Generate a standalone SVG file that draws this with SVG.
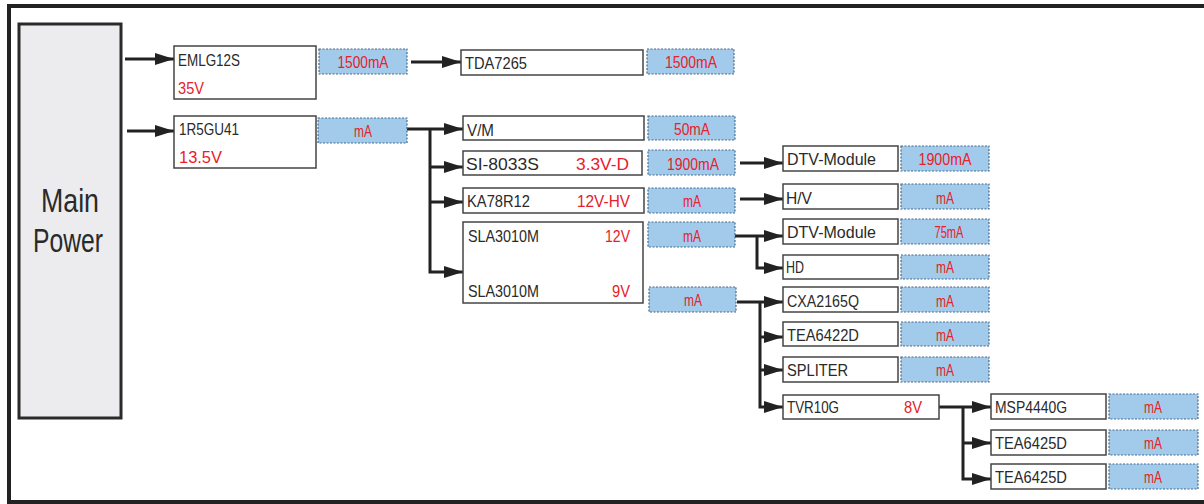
<svg xmlns="http://www.w3.org/2000/svg" width="1204" height="504" viewBox="0 0 1204 504">
<style>
.frame{fill:none;stroke:#222;stroke-width:4}
.box{fill:#fff;stroke:#444;stroke-width:1.5}
.cur{fill:#a2cbeb;stroke:#4a6a8a;stroke-width:1.2;stroke-dasharray:2 1.5}
.main{fill:#ececee;stroke:#2a2a2a;stroke-width:3}
.t{font-family:"Liberation Sans",Arial,sans-serif;font-size:17px;fill:#2a2a2a}
.r{font-family:"Liberation Sans",Arial,sans-serif;font-size:17px;fill:#e8202a}
.c{text-anchor:middle}
.big{font-family:"Liberation Sans",Arial,sans-serif;font-size:34px;fill:#2a2a2a;text-anchor:middle}
.ln{fill:none;stroke:#222;stroke-width:3}
</style>
<defs>
<marker id="ah" markerUnits="userSpaceOnUse" markerWidth="19" markerHeight="12" refX="19" refY="6" orient="auto">
<path d="M0,0 L19,6 L0,12 z" fill="#222"/>
</marker>
</defs>
<rect width="1204" height="504" fill="#fff"/>
<path class="frame" d="M1210,6 H9 V502 H1210"/>

<g id="main-power">
<rect class="main" x="19" y="24" width="102" height="394"/>
<text class="big" x="70" y="212" textLength="58" lengthAdjust="spacingAndGlyphs">Main</text>
<text class="big" x="68" y="252" textLength="70" lengthAdjust="spacingAndGlyphs">Power</text>
</g>

<g id="connectors">
<path class="ln" d="M125,59 H174" marker-end="url(#ah)"/>
<path class="ln" d="M127,131 H174" marker-end="url(#ah)"/>
<path class="ln" d="M411,62 H461" marker-end="url(#ah)"/>
<path class="ln" d="M407,129 H463" marker-end="url(#ah)"/>
<path class="ln" d="M430,129 V272 H463" marker-end="url(#ah)"/>
<path class="ln" d="M430,167 H463" marker-end="url(#ah)"/>
<path class="ln" d="M430,202 H463" marker-end="url(#ah)"/>
<path class="ln" d="M740,163 H783" marker-end="url(#ah)"/>
<path class="ln" d="M740,199 H783" marker-end="url(#ah)"/>
<path class="ln" d="M735,236 H783" marker-end="url(#ah)"/>
<path class="ln" d="M757,236 V268 H783" marker-end="url(#ah)"/>
<path class="ln" d="M737,302 H783" marker-end="url(#ah)"/>
<path class="ln" d="M760,302 V407 H783" marker-end="url(#ah)"/>
<path class="ln" d="M760,337 H783" marker-end="url(#ah)"/>
<path class="ln" d="M760,370 H783" marker-end="url(#ah)"/>
<path class="ln" d="M939,407 H991" marker-end="url(#ah)"/>
<path class="ln" d="M963,407 V479 H991" marker-end="url(#ah)"/>
<path class="ln" d="M963,443 H991" marker-end="url(#ah)"/>
</g>

<g id="emlg12s">
<rect class="box" x="174" y="46" width="142" height="53"/>
<text class="t" x="178" y="66" textLength="62" lengthAdjust="spacingAndGlyphs">EMLG12S</text>
<text class="r" x="178" y="94" textLength="26" lengthAdjust="spacingAndGlyphs">35V</text>
</g>
<g id="emlg12s-current">
<rect class="cur" x="319" y="49" width="88" height="25"/>
<text class="r c" x="363" y="68" textLength="51" lengthAdjust="spacingAndGlyphs">1500mA</text>
</g>

<g id="r5gu41">
<rect class="box" x="174" y="116" width="142" height="52"/>
<text class="t" x="179" y="135" textLength="60" lengthAdjust="spacingAndGlyphs">1R5GU41</text>
<text class="r" x="179" y="163" textLength="43" lengthAdjust="spacingAndGlyphs">13.5V</text>
</g>
<g id="r5gu41-current">
<rect class="cur" x="318" y="118" width="89" height="25"/>
<text class="r c" x="363" y="137" textLength="18" lengthAdjust="spacingAndGlyphs">mA</text>
</g>

<g id="tda7265">
<rect class="box" x="461" y="50" width="182" height="25"/>
<text class="t" x="465" y="69" textLength="62" lengthAdjust="spacingAndGlyphs">TDA7265</text>
</g>
<g id="tda7265-current">
<rect class="cur" x="647" y="49" width="87" height="25"/>
<text class="r c" x="691" y="68" textLength="52" lengthAdjust="spacingAndGlyphs">1500mA</text>
</g>

<g id="vm">
<rect class="box" x="463" y="116" width="181" height="24"/>
<text class="t" x="467" y="136" textLength="27" lengthAdjust="spacingAndGlyphs">V/M</text>
</g>
<g id="vm-current">
<rect class="cur" x="648" y="116" width="87" height="24"/>
<text class="r c" x="692" y="135" textLength="36" lengthAdjust="spacingAndGlyphs">50mA</text>
</g>

<g id="si8033s">
<rect class="box" x="463" y="151" width="179" height="24"/>
<text class="t" x="466" y="170" textLength="73" lengthAdjust="spacingAndGlyphs">SI-8033S</text>
<text class="r" x="576" y="170" textLength="53" lengthAdjust="spacingAndGlyphs">3.3V-D</text>
</g>
<g id="si8033s-current">
<rect class="cur" x="648" y="150" width="87" height="25"/>
<text class="r c" x="693" y="170" textLength="52" lengthAdjust="spacingAndGlyphs">1900mA</text>
</g>

<g id="ka78r12">
<rect class="box" x="463" y="188" width="181" height="25"/>
<text class="t" x="467" y="207" textLength="63" lengthAdjust="spacingAndGlyphs">KA78R12</text>
<text class="r" x="577" y="207" textLength="53" lengthAdjust="spacingAndGlyphs">12V-HV</text>
</g>
<g id="ka78r12-current">
<rect class="cur" x="648" y="188" width="87" height="25"/>
<text class="r c" x="692" y="207" textLength="18" lengthAdjust="spacingAndGlyphs">mA</text>
</g>

<g id="sla3010m">
<rect class="box" x="463" y="222" width="180" height="81"/>
<text class="t" x="468" y="242" textLength="71" lengthAdjust="spacingAndGlyphs">SLA3010M</text>
<text class="r" x="605" y="242" textLength="25" lengthAdjust="spacingAndGlyphs">12V</text>
<text class="t" x="468" y="297" textLength="71" lengthAdjust="spacingAndGlyphs">SLA3010M</text>
<text class="r" x="612" y="297" textLength="18" lengthAdjust="spacingAndGlyphs">9V</text>
</g>
<g id="sla3010m-12v-current">
<rect class="cur" x="648" y="222" width="87" height="25"/>
<text class="r c" x="692" y="242" textLength="18" lengthAdjust="spacingAndGlyphs">mA</text>
</g>
<g id="sla3010m-9v-current">
<rect class="cur" x="649" y="287" width="87" height="25"/>
<text class="r c" x="693" y="306" textLength="18" lengthAdjust="spacingAndGlyphs">mA</text>
</g>

<g id="dtv-module-1">
<rect class="box" x="783" y="146" width="115" height="25"/>
<text class="t" x="787" y="165" textLength="89" lengthAdjust="spacingAndGlyphs">DTV-Module</text>
</g>
<g id="dtv-module-1-current">
<rect class="cur" x="901" y="146" width="88" height="25"/>
<text class="r c" x="945" y="165" textLength="53" lengthAdjust="spacingAndGlyphs">1900mA</text>
</g>

<g id="hv">
<rect class="box" x="783" y="184" width="115" height="25"/>
<text class="t" x="786" y="204" textLength="26" lengthAdjust="spacingAndGlyphs">H/V</text>
</g>
<g id="hv-current">
<rect class="cur" x="901" y="184" width="88" height="25"/>
<text class="r c" x="945" y="204" textLength="18" lengthAdjust="spacingAndGlyphs">mA</text>
</g>

<g id="dtv-module-2">
<rect class="box" x="783" y="219" width="115" height="25"/>
<text class="t" x="787" y="238" textLength="89" lengthAdjust="spacingAndGlyphs">DTV-Module</text>
</g>
<g id="dtv-module-2-current">
<rect class="cur" x="901" y="219" width="88" height="25"/>
<text class="r c" x="949" y="238" textLength="29" lengthAdjust="spacingAndGlyphs">75mA</text>
</g>

<g id="hd">
<rect class="box" x="783" y="255" width="115" height="24"/>
<text class="t" x="786" y="273" textLength="18" lengthAdjust="spacingAndGlyphs">HD</text>
</g>
<g id="hd-current">
<rect class="cur" x="901" y="255" width="88" height="24"/>
<text class="r c" x="945" y="273" textLength="18" lengthAdjust="spacingAndGlyphs">mA</text>
</g>

<g id="cxa2165q">
<rect class="box" x="783" y="287" width="115" height="25"/>
<text class="t" x="787" y="307" textLength="72" lengthAdjust="spacingAndGlyphs">CXA2165Q</text>
</g>
<g id="cxa2165q-current">
<rect class="cur" x="901" y="287" width="88" height="25"/>
<text class="r c" x="945" y="307" textLength="18" lengthAdjust="spacingAndGlyphs">mA</text>
</g>

<g id="tea6422d">
<rect class="box" x="783" y="322" width="115" height="24"/>
<text class="t" x="787" y="341" textLength="72" lengthAdjust="spacingAndGlyphs">TEA6422D</text>
</g>
<g id="tea6422d-current">
<rect class="cur" x="901" y="322" width="88" height="24"/>
<text class="r c" x="945" y="341" textLength="18" lengthAdjust="spacingAndGlyphs">mA</text>
</g>

<g id="spliter">
<rect class="box" x="783" y="357" width="115" height="25"/>
<text class="t" x="787" y="376" textLength="61" lengthAdjust="spacingAndGlyphs">SPLITER</text>
</g>
<g id="spliter-current">
<rect class="cur" x="901" y="357" width="88" height="25"/>
<text class="r c" x="945" y="376" textLength="18" lengthAdjust="spacingAndGlyphs">mA</text>
</g>

<g id="tvr10g">
<rect class="box" x="783" y="395" width="156" height="24"/>
<text class="t" x="787" y="413" textLength="52" lengthAdjust="spacingAndGlyphs">TVR10G</text>
<text class="r" x="904" y="413" textLength="18" lengthAdjust="spacingAndGlyphs">8V</text>
</g>

<g id="msp4440g">
<rect class="box" x="991" y="394" width="115" height="25"/>
<text class="t" x="995" y="413" textLength="72" lengthAdjust="spacingAndGlyphs">MSP4440G</text>
</g>
<g id="msp4440g-current">
<rect class="cur" x="1109" y="394" width="89" height="25"/>
<text class="r c" x="1153" y="413" textLength="18" lengthAdjust="spacingAndGlyphs">mA</text>
</g>

<g id="tea6425d-1">
<rect class="box" x="991" y="430" width="115" height="25"/>
<text class="t" x="995" y="449" textLength="72" lengthAdjust="spacingAndGlyphs">TEA6425D</text>
</g>
<g id="tea6425d-1-current">
<rect class="cur" x="1109" y="430" width="89" height="25"/>
<text class="r c" x="1153" y="449" textLength="18" lengthAdjust="spacingAndGlyphs">mA</text>
</g>

<g id="tea6425d-2">
<rect class="box" x="991" y="464" width="115" height="25"/>
<text class="t" x="995" y="483" textLength="72" lengthAdjust="spacingAndGlyphs">TEA6425D</text>
</g>
<g id="tea6425d-2-current">
<rect class="cur" x="1109" y="464" width="89" height="25"/>
<text class="r c" x="1153" y="483" textLength="18" lengthAdjust="spacingAndGlyphs">mA</text>
</g>
</svg>
